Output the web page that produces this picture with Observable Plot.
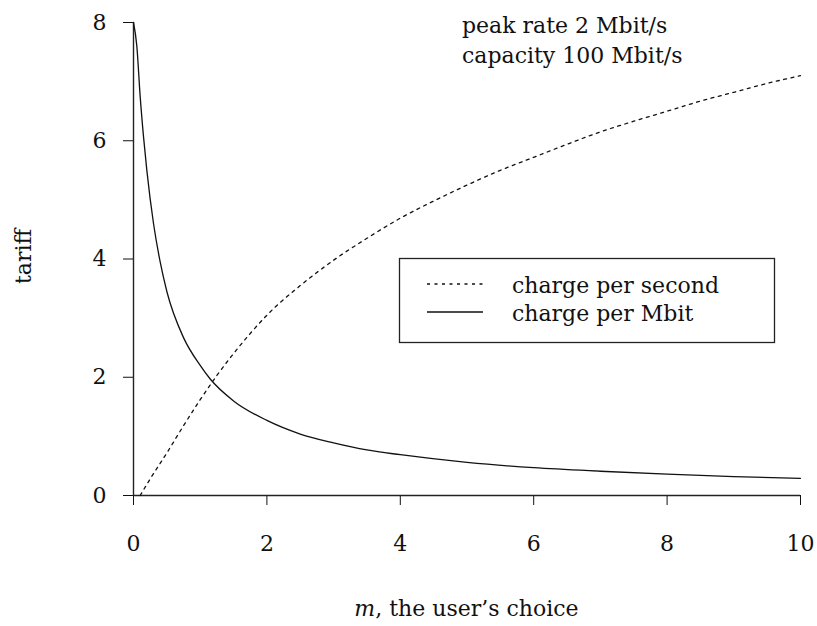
<!DOCTYPE html>
<html>
<head>
<meta charset="utf-8">
<script src="https://cdn.jsdelivr.net/npm/d3@7"></script>
<script src="https://cdn.jsdelivr.net/npm/@observablehq/plot@0.6"></script>
<style>
  html, body { margin: 0; padding: 0; background: #fff; }
  #chart svg { display: block; }
</style>
</head>
<body>
<div id="chart"></div>
<script>
// x: m, the user's choice
const xTicks = [0, 2, 4, 6, 8, 10];
const yTicks = [0, 2, 4, 6, 8];

// charge per second (dotted)
const secM = [0.1, 0.25, 0.5, 0.75, 1, 1.25, 1.5, 1.75, 2, 2.5, 3, 3.5, 4, 4.5, 5, 5.5, 6, 6.5, 7, 7.5, 8, 8.5, 9, 9.5, 10];
const secV = [0, 0.28, 0.72, 1.18, 1.62, 2.03, 2.4, 2.74, 3.05, 3.55, 3.98, 4.35, 4.69, 4.98, 5.25, 5.5, 5.72, 5.94, 6.15, 6.33, 6.5, 6.67, 6.82, 6.97, 7.1];

// charge per Mbit (solid)
const mbitM = [0, 0.05, 0.1, 0.15, 0.2, 0.3, 0.4, 0.5, 0.75, 1, 1.15, 1.5, 2, 2.5, 3, 3.5, 4, 5, 6, 7, 8, 9, 10];
const mbitV = [8, 7.6, 6.75, 6.07, 5.5, 4.6, 3.95, 3.45, 2.67, 2.2, 1.97, 1.6, 1.27, 1.04, 0.89, 0.77, 0.69, 0.56, 0.47, 0.41, 0.36, 0.32, 0.29];

const seriesNames = ["charge per second", "charge per Mbit"];
const annotation = ["peak rate 2 Mbit/s", "capacity 100 Mbit/s"];

const perSecond = secM.map((m, i) => ({m, v: secV[i]}));
const perMbit = mbitM.map((m, i) => ({m, v: mbitV[i]}));

const FONT = "DejaVu Serif";
const FS = 22;

const W = 817, H = 626;
const mL = 133, mR = 17, mT = 22, mB = 131;

const chart = Plot.plot({
  width: W,
  height: H,
  marginLeft: mL,
  marginRight: mR,
  marginTop: mT,
  marginBottom: mB,
  style: {fontFamily: FONT, fontSize: FS + "px", color: "#111", background: "#fff"},
  x: {domain: [0, 10], ticks: xTicks, tickSize: 10, tickPadding: 30, label: null, tickFormat: d => String(d)},
  y: {domain: [0, 8], ticks: yTicks, tickSize: 10, tickPadding: 17, label: null, tickFormat: d => String(d)},
  marks: [
    Plot.ruleX([0], {stroke: "#222", strokeWidth: 1.4}),
    Plot.ruleY([0], {stroke: "#222", strokeWidth: 1.4}),
    Plot.line(perSecond, {x: "m", y: "v", stroke: "#111", strokeWidth: 1.3, strokeDasharray: "3,4.5", curve: "monotone-x"}),
    Plot.line(perMbit, {x: "m", y: "v", stroke: "#111", strokeWidth: 1.3, curve: "monotone-x"})
  ]
});

document.getElementById("chart").appendChild(chart);

const svg = d3.select(chart);
const sx = chart.scale("x"), sy = chart.scale("y");
const ink = "#111";

// axis titles
svg.append("text")
  .attr("transform", `translate(31,${sy.apply(4) - 2}) rotate(-90)`)
  .attr("text-anchor", "middle")
  .attr("font-family", FONT).attr("font-size", FS).attr("fill", ink)
  .text("tariff");

const xl = svg.append("text")
  .attr("x", (sx.apply(0) + sx.apply(10)) / 2)
  .attr("y", 616)
  .attr("text-anchor", "middle")
  .attr("font-family", FONT).attr("font-size", FS).attr("fill", ink);
xl.append("tspan").attr("font-style", "italic").text("m");
xl.append("tspan").text(", the user\u2019s choice");

// annotation
annotation.forEach((t, i) => {
  svg.append("text")
    .attr("x", 462).attr("y", 33 + i * 30)
    .attr("text-anchor", "start")
    .attr("font-family", FONT).attr("font-size", FS).attr("fill", ink)
    .text(t);
});

// legend
const lg = svg.append("g");
lg.append("rect").attr("x", 399.5).attr("y", 258.5).attr("width", 375).attr("height", 84)
  .attr("fill", "#fff").attr("stroke", "#222").attr("stroke-width", 1.3);
const dashes = ["3,4.5", null];
const rowY = [284, 312];
seriesNames.forEach((name, i) => {
  const l = lg.append("line").attr("x1", 427).attr("x2", 483).attr("y1", rowY[i]).attr("y2", rowY[i])
    .attr("stroke", ink).attr("stroke-width", 1.3);
  if (dashes[i]) l.attr("stroke-dasharray", dashes[i]);
  lg.append("text").attr("x", 512).attr("y", rowY[i] + 9)
    .attr("text-anchor", "start")
    .attr("font-family", FONT).attr("font-size", FS).attr("fill", ink)
    .text(name);
});
</script>
</body>
</html>
